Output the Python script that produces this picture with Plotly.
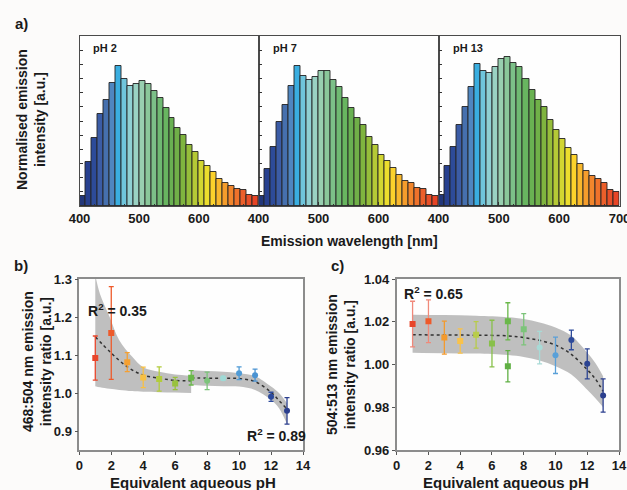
import plotly.graph_objects as go

# ---- panel a: emission spectra, 10 nm bins ----
wavelength = [400, 410, 420, 430, 440, 450, 460, 470, 480, 490,
              500, 510, 520, 530, 540, 550, 560, 570, 580, 590,
              600, 610, 620, 630, 640, 650, 660, 670, 680, 690]
bin_colors = ['#233779', '#27408f', '#2d4b99', '#3b5ca6', '#4670ae', '#4f86c0',
              '#3aaee0', '#6fc5dc', '#8fd0d3', '#9ad2c3', '#98cfb0', '#8ac79a',
              '#7cc088', '#6fba72', '#68b560', '#69b152', '#70b048', '#7fb43f',
              '#96bd3a', '#b5c936', '#d2d631', '#ecdd2d', '#fcd22b', '#f9b82c',
              '#f59d2c', '#f2862c', '#ef722b', '#ec5f2a', '#e94f28', '#e74526']
ph2_int = [0.07, 0.31, 0.48, 0.65, 0.75, 0.87, 0.99, 0.90, 0.85, 0.86,
           0.88, 0.86, 0.81, 0.76, 0.69, 0.62, 0.55, 0.50, 0.43, 0.38,
           0.32, 0.28, 0.24, 0.19, 0.16, 0.14, 0.12, 0.11, 0.08, 0.07]
ph7_int = [0.07, 0.26, 0.42, 0.59, 0.71, 0.85, 0.99, 0.92, 0.89, 0.91,
           0.95, 0.95, 0.89, 0.84, 0.76, 0.69, 0.62, 0.57, 0.49, 0.43,
           0.36, 0.32, 0.27, 0.22, 0.18, 0.16, 0.13, 0.12, 0.08, 0.07]
ph13_int = [0.08, 0.28, 0.42, 0.57, 0.70, 0.84, 1.00, 0.95, 0.94, 0.98,
            1.04, 1.05, 1.01, 0.98, 0.90, 0.82, 0.75, 0.70, 0.61, 0.54,
            0.47, 0.41, 0.36, 0.30, 0.25, 0.21, 0.19, 0.16, 0.11, 0.10]
spectra_labels = ['pH 2', 'pH 7', 'pH 13']

# ---- panel b: 468:504 ratio ----
b_ph = [1, 2, 3, 4, 5, 6, 7, 8, 9, 10, 11, 12, 13]
b_ratio = [1.092, 1.158, 1.081, 1.041, 1.037, 1.025, 1.040, 1.032, 1.039, 1.052, 1.047, 0.990, 0.953]
b_err = [0.058, 0.122, 0.025, 0.027, 0.032, 0.016, 0.019, 0.023, 0.005, 0.017, 0.016, 0.012, 0.035]
b_colors = ['#e8452a', '#ee5a2a', '#f5a031', '#f8c042', '#b2cc3c', '#98c23c', '#6ab84a',
            '#7cc47a', '#9fdad6', '#4f9bd6', '#4b93d2', '#2c4a9c', '#2b3f8e']
b_symbols = ['square'] * 7 + ['circle'] * 6

b_fit1_ph = [1, 2, 3, 4, 5, 6, 7]
b_fit1 = [1.148, 1.105, 1.069, 1.047, 1.039, 1.033, 1.032]
b_band1_ph = [1, 1.3, 1.9, 2.5, 3.3, 4, 5, 6, 7]
b_band1_hi = [1.31, 1.26, 1.20, 1.139, 1.096, 1.068, 1.056, 1.049, 1.046]
b_band1_lo = [1.018, 1.015, 1.011, 1.008, 1.005, 1.003, 1.002, 1.001, 1.000]

b_fit2_ph = [7, 8, 9, 10, 11, 12, 12.5, 13]
b_fit2 = [1.040, 1.039, 1.039, 1.038, 1.030, 1.002, 0.980, 0.958]
b_band2_hi = [1.060, 1.058, 1.056, 1.052, 1.044, 1.017, 1.000, 0.973]
b_band2_lo = [1.021, 1.019, 1.018, 1.017, 1.008, 0.982, 0.960, 0.918]

# ---- panel c: 504:513 ratio ----
c_ph = [1, 2, 3, 4, 5, 6, 7, 7, 8, 9, 10, 11, 12, 13]
c_ratio = [1.0189, 1.0202, 1.0126, 1.0110, 1.0139, 1.0098, 1.0202, 0.9992,
           1.0165, 1.0079, 1.0043, 1.0115, 1.0003, 0.9855]
c_err = [0.0107, 0.0100, 0.0077, 0.0057, 0.0062, 0.0109, 0.0087, 0.0073,
         0.0073, 0.0076, 0.0085, 0.0046, 0.0070, 0.0078]
c_colors = ['#e8452a', '#ee5a2a', '#f39a2e', '#f9c24a', '#b8cc4a', '#88c04a', '#6ab84a',
            '#60b044', '#7cc47a', '#a8dad6', '#5aa0d8', '#2d4a9a', '#2b4391', '#2b3f8e']
c_err_colors = ['#f0887a', '#f08a7a', '#f39a2e', '#f9c24a', '#b8cc4a', '#88c04a', '#6ab84a',
                '#60b044', '#7cc47a', '#a8dad6', '#5aa0d8', '#2d4a9a', '#2b4391', '#2b3f8e']
c_symbols = ['square'] * 9 + ['circle'] * 5

c_fit_ph = [1, 3, 5, 7, 8, 9, 10, 11, 12, 12.5, 13]
c_fit = [1.0139, 1.0138, 1.0137, 1.0134, 1.0126, 1.0113, 1.0091, 1.0047, 0.9976, 0.9934, 0.9874]
c_band_hi = [1.0233, 1.0231, 1.0228, 1.0221, 1.0213, 1.0197, 1.0173, 1.0134, 1.0055, 1.0008, 0.9945]
c_band_lo = [1.0055, 1.0053, 1.0051, 1.0044, 1.0035, 1.0019, 0.9992, 0.9953, 0.9882, 0.9843, 0.9800]

W, H = 627, 490
FONT = 'Liberation Sans, Arial, sans-serif'
TXT = '#1a1a1a'


def px(x):
    return x / W


def py(y):
    return 1 - y / H


fig = go.Figure()

# spectra
for i, vals in enumerate([ph2_int, ph7_int, ph13_int]):
    n = '' if i == 0 else str(i + 1)
    fig.add_trace(go.Bar(
        x=wavelength, y=vals, width=10, offset=0,
        marker=dict(color=bin_colors, line=dict(color='rgba(35,35,35,0.9)', width=1)),
        xaxis='x' + n, yaxis='y' + n, showlegend=False))


def add_band(ph, lo, hi, xa, ya):
    fig.add_trace(go.Scatter(x=ph, y=lo, mode='lines', line=dict(width=0, shape='spline'),
                             xaxis=xa, yaxis=ya, showlegend=False, hoverinfo='skip'))
    fig.add_trace(go.Scatter(x=ph, y=hi, mode='lines', line=dict(width=0, shape='spline'),
                             fill='tonexty', fillcolor='rgba(180,180,180,0.85)',
                             xaxis=xa, yaxis=ya, showlegend=False, hoverinfo='skip'))


def add_fit(ph, vals, xa, ya):
    fig.add_trace(go.Scatter(x=ph, y=vals, mode='lines',
                             line=dict(color='#333333', width=1.5, dash='dot', shape='spline'),
                             xaxis=xa, yaxis=ya, showlegend=False))


def add_points(ph, vals, errs, cols, ecols, syms, xa, ya):
    for p, v, e, c, ec, s in zip(ph, vals, errs, cols, ecols, syms):
        fig.add_trace(go.Scatter(
            x=[p], y=[v], mode='markers',
            marker=dict(color=c, size=6, symbol=s),
            error_y=dict(type='data', array=[e], color=ec, thickness=1.3, width=2.5),
            xaxis=xa, yaxis=ya, showlegend=False))


# panel b
add_band(b_band1_ph, b_band1_lo, b_band1_hi, 'x4', 'y4')
add_band(b_fit2_ph, b_band2_lo, b_band2_hi, 'x4', 'y4')
add_fit(b_fit1_ph, b_fit1, 'x4', 'y4')
add_fit(b_fit2_ph, b_fit2, 'x4', 'y4')
add_points(b_ph, b_ratio, b_err, b_colors, b_colors, b_symbols, 'x4', 'y4')

# panel c
add_band(c_fit_ph, c_band_lo, c_band_hi, 'x5', 'y5')
add_fit(c_fit_ph, c_fit, 'x5', 'y5')
add_points(c_ph, c_ratio, c_err, c_colors, c_err_colors, c_symbols, 'x5', 'y5')

tick_font = dict(family=FONT, size=13, color=TXT, weight='bold')

layout = dict(
    width=W, height=H, margin=dict(l=0, r=0, t=0, b=0, pad=0, autoexpand=False),
    paper_bgcolor='#fcfbfa', plot_bgcolor='#fefefe',
    font=dict(family=FONT, color=TXT),
    bargap=0,
)

spec_x = [(79.5, 258.5), (258.5, 438.5), (438.5, 619.5)]
for i, (x0, x1) in enumerate(spec_x):
    n = '' if i == 0 else str(i + 1)
    tv = [400, 500, 600, 700] if i == 2 else [400, 500, 600]
    layout['xaxis' + n] = dict(
        domain=[px(x0), px(x1)], range=[400, 700], anchor='y' + n, automargin=False,
        tickmode='array', tickvals=tv, ticks='inside', ticklen=4, tickcolor='#333',
        ticklabeloverflow='allow',
        minor=dict(tickmode='array', tickvals=[425, 450, 475, 525, 550, 575, 625, 650, 675],
                   ticks='inside', ticklen=2, tickcolor='#333'),
        tickfont=tick_font, showline=True, mirror=True, linecolor='#4a4a4a', linewidth=1,
        showgrid=False, zeroline=False, fixedrange=True)
    layout['yaxis' + n] = dict(
        domain=[py(206), py(36)], range=[0, 1.2], anchor='x' + n, automargin=False,
        tickmode='array', tickvals=[0.1, 0.2, 0.3, 0.4, 0.5, 0.6, 0.7, 0.8, 0.9, 1.0, 1.1],
        ticks='inside', ticklen=3, tickcolor='#333', showticklabels=False,
        showline=True, mirror=True, linecolor='#4a4a4a', linewidth=1,
        showgrid=False, zeroline=False)

for n, (x0, x1), yr, tv, fmt in [
        ('4', (79.3, 303), [0.85, 1.3], [0.9, 1.0, 1.1, 1.2, 1.3], '.1f'),
        ('5', (396.7, 619), [0.96, 1.04], [0.96, 0.98, 1.00, 1.02, 1.04], '.2f')]:
    layout['xaxis' + n] = dict(
        domain=[px(x0), px(x1)], range=[0, 14], anchor='y' + n, dtick=2, automargin=False,
        ticks='outside', ticklen=3, tickcolor='#555', tickfont=tick_font,
        ticklabeloverflow='allow',
        showline=True, mirror=True, linecolor='#8c8c8c', linewidth=1.5,
        showgrid=False, zeroline=False)
    layout['yaxis' + n] = dict(
        domain=[py(450), py(279)], range=yr, anchor='x' + n, automargin=False,
        tickmode='array', tickvals=tv, tickformat=fmt,
        ticks='outside', ticklen=3, tickcolor='#555', tickfont=tick_font,
        showline=True, mirror=True, linecolor='#8c8c8c', linewidth=1.5,
        showgrid=False, zeroline=False)

fig.update_layout(**layout)


def note(text, x, y, size, anchor='center', angle=0):
    fig.add_annotation(text=text, x=px(x), y=py(y), xref='paper', yref='paper',
                       showarrow=False, xanchor=anchor, yanchor='middle', textangle=angle,
                       font=dict(family=FONT, size=size, color=TXT, weight='bold'))


note('a)', 21, 23, 15)
note('b)', 21, 265, 15)
note('c)', 337, 265, 15)
for lab, x in zip(spectra_labels, [91, 271, 451]):
    note(lab, x, 48, 11, anchor='left')
note('Normalised emission<br>intensity [a.u.]', 31, 120, 14, angle=-90)
note('Emission wavelength [nm]', 349, 241, 14)
note('468:504 nm emission<br>intensity ratio [a.u.]', 37, 362, 14, angle=-90)
note('504:513 nm emission<br>intensity ratio [a.u.]', 341, 365, 14, angle=-90)
note('Equivalent aqueous pH', 193, 482, 15)
note('Equivalent aqueous pH', 506, 482, 15)
note('R<sup>2</sup> = 0.35', 86, 310, 14, anchor='left')
note('R<sup>2</sup> = 0.89', 245, 435, 14, anchor='left')
note('R<sup>2</sup> = 0.65', 402, 293, 14, anchor='left')

# the page body has a default 8px margin; drop it so the figure fills the window
fig.write_html('out.html', config={'displayModeBar': False},
               post_script="document.body.style.margin='0';")
